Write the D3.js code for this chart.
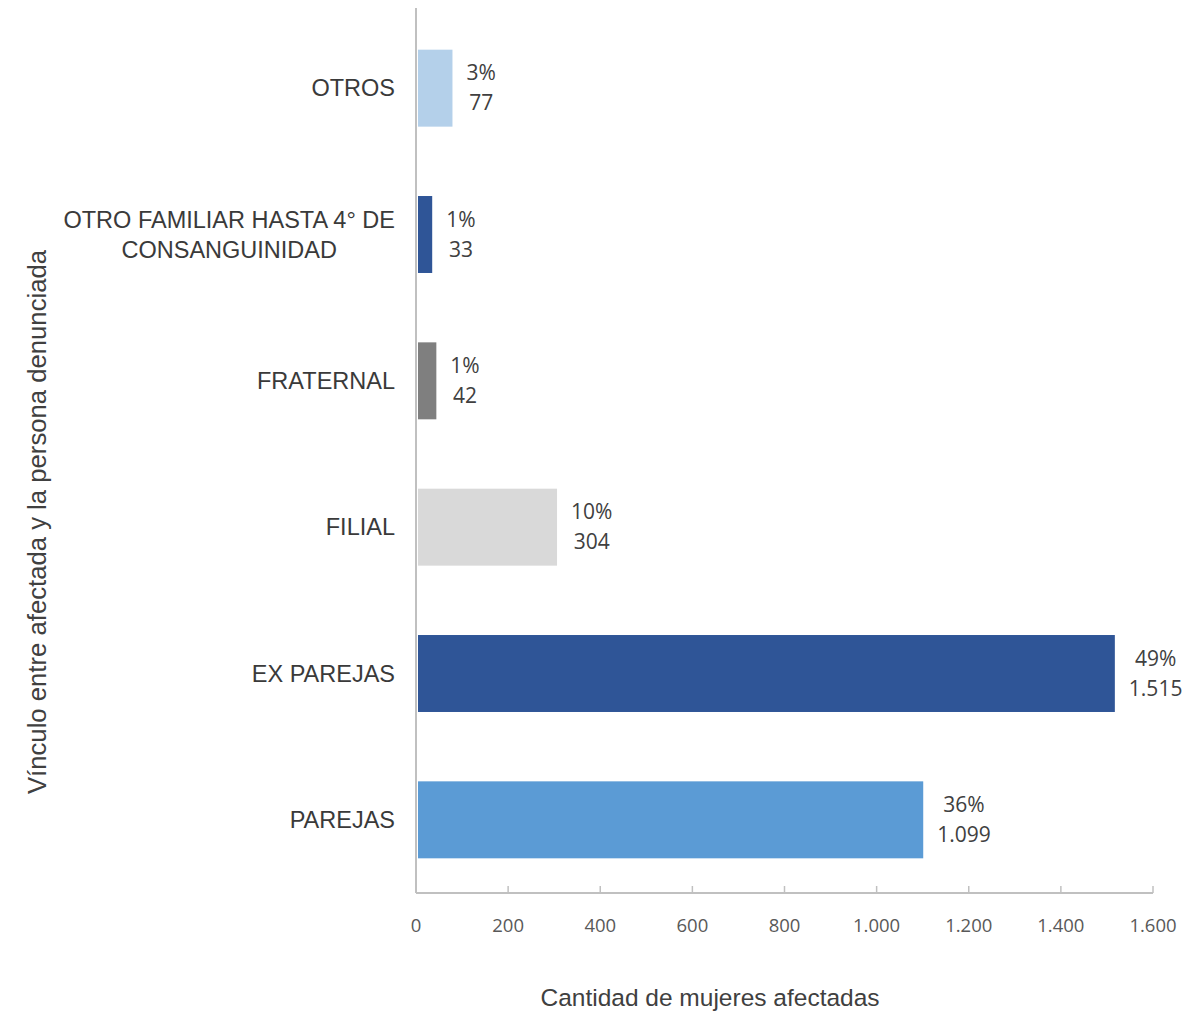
<!DOCTYPE html>
<html>
<head>
<meta charset="utf-8">
<script src="https://cdn.jsdelivr.net/npm/d3@7"></script>
<style>
  body { margin: 0; background: #fff; }
  .cat { font-family: "Liberation Sans", Arial, sans-serif; font-size: 23.5px; fill: #3a3a3a; }
  .lbl { font-family: "Open Sans", sans-serif; font-size: 21px; fill: #404040; }
  .tick-lbl { font-family: "Open Sans", sans-serif; font-size: 18.5px; fill: #595959; }
  .title { font-family: "Liberation Sans", Arial, sans-serif; font-size: 24.5px; fill: #404040; }
  .ytitle { font-size: 25.7px; }
</style>
</head>
<body>
<div id="canvas"></div>
<script>
// DATA (top to bottom)
const categories = ["OTROS", "OTRO FAMILIAR HASTA 4° DE\nCONSANGUINIDAD", "FRATERNAL", "FILIAL", "EX PAREJAS", "PAREJAS"];
const values = [77, 33, 42, 304, 1515, 1099];
const percents = ["3%", "1%", "1%", "10%", "49%", "36%"];
const barColors = ["#b4d0ea", "#2f5597", "#7f7f7f", "#d9d9d9", "#2f5597", "#5b9bd5"];
const xTicks = [0, 200, 400, 600, 800, 1000, 1200, 1400, 1600];

function drawGraph() {
  // DIMENSIONS
  const width = 1194;
  const height = 1013;
  const x0 = 416, x1 = 1153;
  const top = 15, bottom = 893;

  const svg = d3.select('#canvas')
    .append('svg')
    .attr('width', width)
    .attr('height', height);

  const data = categories.map((c, i) => ({ cat: c, val: values[i], pct: percents[i], color: barColors[i] }));

  // SCALES
  const scaleX = d3.scaleLinear().domain([0, 1600]).range([x0, x1]);
  const scaleY = d3.scaleBand(categories, [top, bottom]).paddingInner(0.474).paddingOuter(0.237);

  const es = d3.formatLocale({ decimal: ",", thousands: ".", grouping: [3], currency: ["", "€"] });
  const fmt = es.format(",");

  // BARS
  svg.selectAll('rect.bar').data(data).enter()
    .append('rect')
    .attr('class', 'bar')
    .attr('x', scaleX(0) + 2)
    .attr('y', d => scaleY(d.cat))
    .attr('width', d => scaleX(d.val) - scaleX(0) - 1)
    .attr('height', scaleY.bandwidth())
    .style('fill', d => d.color);

  // AXES
  const axisColor = "#c0c0c0";
  svg.append('line')
    .attr('x1', x0).attr('x2', x0)
    .attr('y1', 8).attr('y2', bottom)
    .style('stroke', axisColor).style('stroke-width', 2);

  svg.append('line')
    .attr('x1', x0).attr('x2', x1)
    .attr('y1', bottom).attr('y2', bottom)
    .style('stroke', axisColor).style('stroke-width', 2);

  svg.selectAll('line.tick').data(xTicks.slice(1)).enter()
    .append('line')
    .attr('class', 'tick')
    .attr('x1', d => scaleX(d)).attr('x2', d => scaleX(d))
    .attr('y1', bottom - 7).attr('y2', bottom)
    .style('stroke', axisColor).style('stroke-width', 1.5);

  svg.selectAll('text.tick-lbl').data(xTicks).enter()
    .append('text')
    .attr('class', 'tick-lbl')
    .attr('x', d => scaleX(d))
    .attr('y', 932)
    .style('text-anchor', 'middle')
    .text(d => fmt(d));

  // CATEGORY LABELS
  svg.selectAll('text.cat').data(data).enter()
    .append('text')
    .attr('class', 'cat')
    .each(function (d) {
      const lines = d.cat.split("\n");
      const cy = scaleY(d.cat) + scaleY.bandwidth() / 2;
      const t = d3.select(this);
      const spans = lines.map((l, i) => t.append('tspan')
        .attr('y', cy + 8 + (i - (lines.length - 1) / 2) * 30)
        .text(l));
      const w = d3.max(spans, s => s.node().getComputedTextLength());
      spans.forEach(s => s.attr('x', 395 - w / 2));
      t.style('text-anchor', 'middle');
    });

  // DATA LABELS
  svg.selectAll('text.lbl').data(data).enter()
    .append('text')
    .attr('class', 'lbl')
    .style('text-anchor', 'middle')
    .each(function (d) {
      const cy = scaleY(d.cat) + scaleY.bandwidth() / 2;
      const t = d3.select(this);
      const a = t.append('tspan').attr('y', cy - 8).text(d.pct);
      const b = t.append('tspan').attr('y', cy + 22).text(fmt(d.val));
      const w = Math.max(a.node().getComputedTextLength(), b.node().getComputedTextLength());
      const cx = scaleX(d.val) + 15 + w / 2;
      a.attr('x', cx);
      b.attr('x', cx);
    });

  // TITLES
  svg.append('text')
    .attr('class', 'title')
    .attr('x', 710)
    .attr('y', 1006)
    .style('text-anchor', 'middle')
    .text('Cantidad de mujeres afectadas');

  svg.append('text')
    .attr('class', 'title ytitle')
    .attr('transform', 'translate(46,522) rotate(-90)')
    .style('text-anchor', 'middle')
    .text('Vínculo entre afectada y la persona denunciada');
}

drawGraph();
</script>
</body>
</html>
